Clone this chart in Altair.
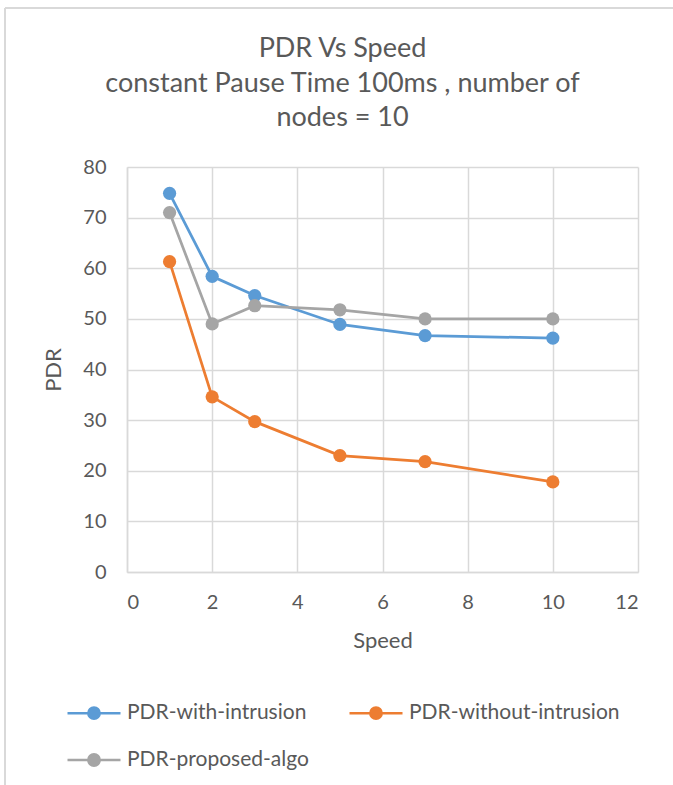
import altair as alt
import pandas as pd

speeds = [1, 2, 3, 5, 7, 10]
series_names = ["PDR-with-intrusion", "PDR-without-intrusion", "PDR-proposed-algo"]
with_intrusion = [74.8, 58.4, 54.6, 48.9, 46.7, 46.2]
without_intrusion = [61.3, 34.6, 29.7, 23.0, 21.8, 17.8]
proposed_algo = [71.0, 49.0, 52.6, 51.8, 50.0, 50.0]
colors = ["#5B9BD5", "#ED7D31", "#A5A5A5"]
title_lines = ["PDR Vs Speed", "constant Pause Time 100ms , number of", "nodes = 10"]

rows = []
for name, vals in zip(series_names, [with_intrusion, without_intrusion, proposed_algo]):
    for s, v in zip(speeds, vals):
        rows.append({"Speed": s, "PDR": v, "Series": name})
df = pd.DataFrame(rows)

# legend is laid out column-major, so reorder to get Excel's row-major look
legend_order = [series_names[0], series_names[2], series_names[1]]
legend_colors = [colors[0], colors[2], colors[1]]

FONT = "Lato"
TXT = "#595959"
GRID = "#d9d9d9"

# legend symbol: a line with a filled dot (concentric rings)
sym = "M-1,0L1,0"
for r in [0.05, 0.14, 0.215]:
    sym += f"M{r},0A{r},{r},0,1,1,{-r},0A{r},{r},0,1,1,{r},0"

xenc = alt.X("Speed:Q", scale=alt.Scale(domain=[0, 12], nice=False),
             axis=alt.Axis(values=list(range(0, 13, 2)), title="Speed"))
yenc = alt.Y("PDR:Q", scale=alt.Scale(domain=[0, 80], nice=False),
             axis=alt.Axis(values=list(range(0, 81, 10)), title="PDR"))

lines = alt.Chart(df).mark_line(strokeWidth=2.75).encode(
    x=xenc, y=yenc,
    color=alt.Color("Series:N",
                    scale=alt.Scale(domain=legend_order, range=legend_colors),
                    legend=alt.Legend(title=None, orient="none", legendX=-61, legendY=518,
                                      columns=2, columnPadding=35, rowPadding=8,
                                      symbolType=sym, symbolSize=2809, symbolStrokeWidth=2.5,
                                      labelFont=FONT, labelFontSize=21, labelColor=TXT,
                                      labelOffset=5, labelLimit=400)),
)

points = alt.Chart(df).mark_point(filled=True, size=175, opacity=1).encode(
    x=xenc, y=yenc,
    fill=alt.Fill("Series:N", scale=alt.Scale(domain=legend_order, range=legend_colors),
                  legend=None),
)

border_top = alt.Chart(df).mark_rule(color=GRID, strokeWidth=2).encode(
    x=alt.value(-122), x2=alt.value(546), y=alt.value(-159))
border_left = alt.Chart(df).mark_rule(color=GRID, strokeWidth=2).encode(
    x=alt.value(-122), y=alt.value(-159), y2=alt.value(630))

chart = alt.layer(border_top, border_left, lines, points).properties(
    width=511, height=405,
    autosize=alt.AutoSizeParams(type="none"),
    padding={"left": 127, "top": 167, "right": 35, "bottom": 213},
    title=alt.TitleParams(text=title_lines, font=FONT, fontSize=27, fontWeight="normal",
                          color=TXT, lineHeight=34.5, anchor="middle", dx=-40,
                          baseline="bottom", offset=-152),
).configure_view(stroke=None).configure_axis(
    grid=True, gridColor=GRID, gridWidth=1.5,
    domainColor=GRID, domainWidth=1.5, ticks=False,
    labelFont=FONT, labelFontSize=20, labelColor=TXT,
    titleFont=FONT, titleFontSize=22, titleColor=TXT, titleFontWeight="normal",
).configure_axisX(labelPadding=20, titlePadding=18).configure_axisY(
    labelPadding=21, titlePadding=17)

chart.save("out.html", embed_options={"renderer": "svg", "actions": False})
